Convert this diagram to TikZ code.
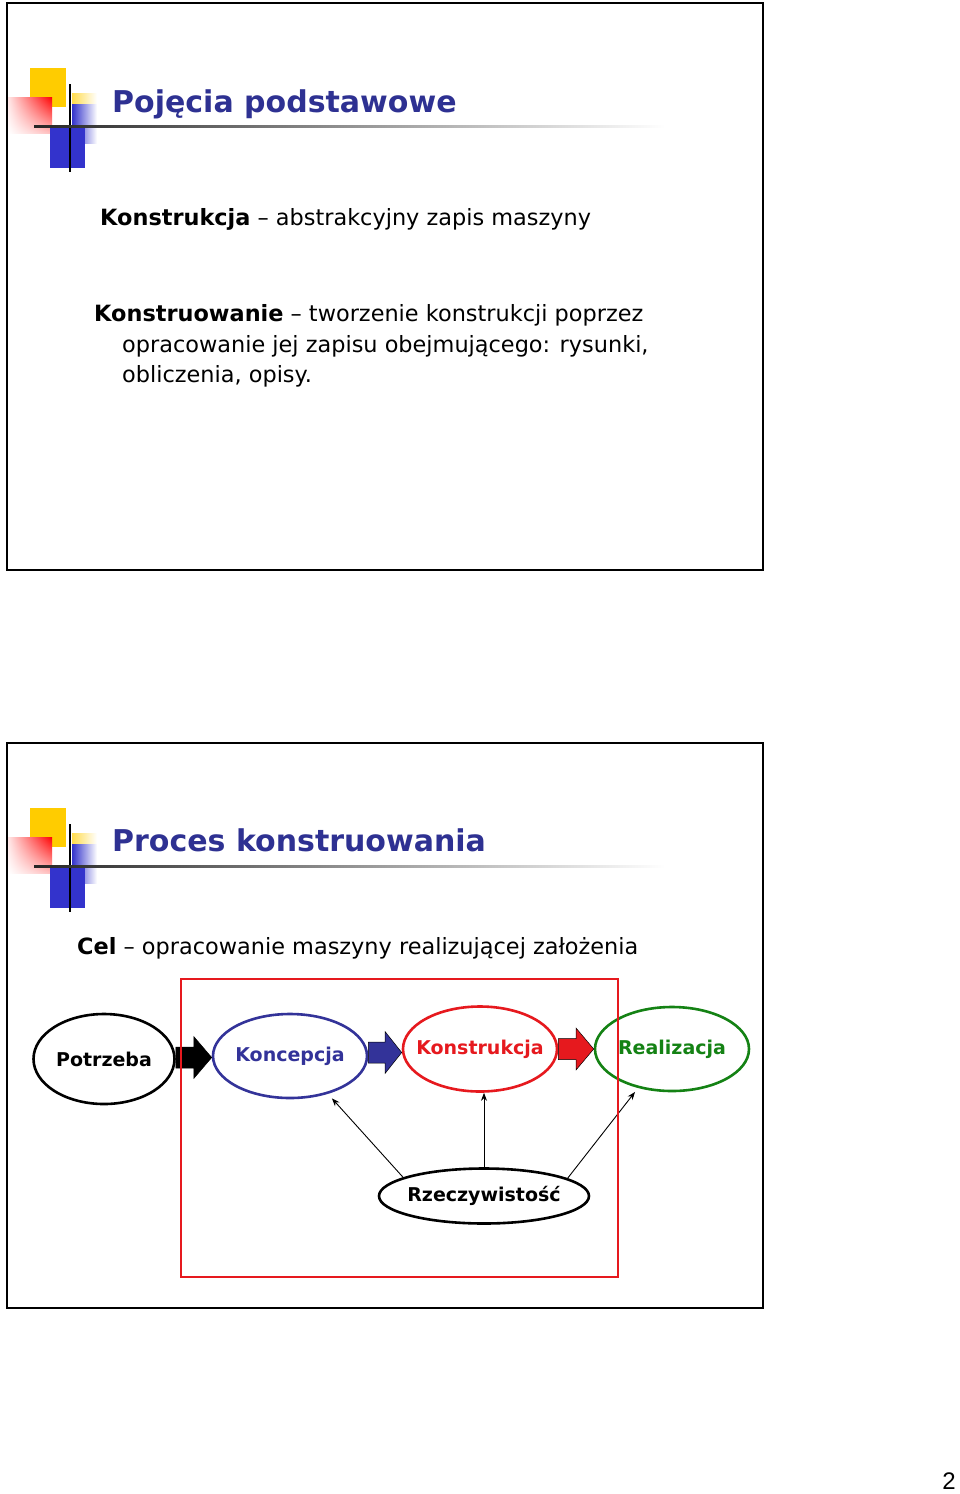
\documentclass[tikz,border=0pt]{standalone}
\usepackage{fontspec}
\setmainfont{DejaVu Sans}
\newfontfamily\pagenumfont{Liberation Sans}
\usepackage{xcolor}
\usetikzlibrary{calc,arrows.meta,shapes.geometric,shadings}

\definecolor{titleblue}{RGB}{46,49,146}
\definecolor{logoblue}{RGB}{51,51,204}
\definecolor{logoyellow}{RGB}{255,204,0}
\definecolor{conceptblue}{RGB}{51,51,153}
\definecolor{designred}{RGB}{230,25,30}
\definecolor{realgreen}{RGB}{20,130,20}

% slide logo: squares, gradients and rule
\newcommand{\slidelogo}{%
    \fill[logoyellow] (30,68) rectangle (66,107);
    \shade[upper left=red!10, upper right=red,
           lower left=white, lower right=red!25]
        (8,97) rectangle (52,133);
    \shade[left color=logoyellow!70, right color=white]
        (72,93) rectangle (97,104);
    \shade[left color=logoblue, right color=white]
        (72,104) rectangle (97,143);
    \fill[logoblue] (50,128) rectangle (85,168);
    \draw[line width=1.6pt] (70,84) -- (70,172);
    \shade[left color=black!85, right color=white]
        (34,125) rectangle (665,127.5);
}

% block arrow between two stages
\newcommand{\flowarrow}[3]{%
    \path (#1.east) -- coordinate[midway] (#1-#2-mid) (#2.west);
    \filldraw[fill=#3, draw=black, line width=0.5pt]
        let \p1=(#1.east), \p2=(#2.west), \p3=(#1-#2-mid) in
        (\x1,\y3+10.5pt) -- (\x3,\y3+10.5pt) -- (\x3,\y3+21pt)
        -- (\x2,\y3) -- (\x3,\y3-21pt) -- (\x3,\y3-10.5pt)
        -- (\x1,\y3-10.5pt) -- cycle;
}

\begin{document}
\begin{tikzpicture}[
    x=1pt,
    y=-1pt,
    >={Stealth[length=8pt,width=6pt]},
    slideframe/.style={draw=black,line width=1.6pt},
    slidetitle/.style={
        anchor=base west,
        inner sep=0pt,
        text=titleblue,
        font=\bfseries\fontsize{30}{36}\selectfont
    },
    bodytext/.style={
        anchor=base west,
        inner sep=0pt,
        font=\fontsize{22.4}{26}\selectfont
    },
    stage/.style={
        ellipse,
        draw,
        line width=2.6pt,
        inner xsep=-20pt,
        inner ysep=0pt,
        font=\bfseries\fontsize{19}{22}\selectfont
    },
    feedback/.style={->,line width=0.9pt}
]

\useasboundingbox (0,0) rectangle (960,1494);
\fill[white] (0,0) rectangle (960,1494);

% ---------------------------------------------------------
% Slide 1
% ---------------------------------------------------------

\draw[slideframe] (7,3) rectangle (763,570);

\begin{scope}
    \slidelogo
\end{scope}

\node[slidetitle] (title1) at (112,112) {Pojęcia podstawowe};

\node[bodytext] (def1) at (100,225)
    {\textbf{Konstrukcja} – abstrakcyjny zapis maszyny};

\node[bodytext] (def2) at (94,321)
    {\textbf{Konstruowanie} – tworzenie konstrukcji poprzez};
\node[bodytext] (def2b) at (122,352)
    {opracowanie jej zapisu obejmującego: rysunki,};
\node[bodytext] (def2c) at (122,382)
    {obliczenia, opisy.};

% ---------------------------------------------------------
% Slide 2
% ---------------------------------------------------------

\draw[slideframe] (7,743) rectangle (763,1308);

\begin{scope}[shift={(0,740)}]
    \slidelogo
\end{scope}

\node[slidetitle] (title2) at (112,851) {Proces konstruowania};

\node[bodytext] (goal) at (77,954)
    {\textbf{Cel} – opracowanie maszyny realizującej założenia};

% stages of the process
\node[stage,minimum width=141pt,minimum height=90pt]
    (need) at (104,1059) {Potrzeba};
\node[stage,draw=conceptblue,text=conceptblue,
      minimum width=154pt,minimum height=84pt]
    (concept) at (290,1056) {Koncepcja};
\node[stage,draw=designred,text=designred,
      minimum width=154pt,minimum height=85pt]
    (design) at (480,1049) {Konstrukcja};
\node[stage,draw=realgreen,text=realgreen,
      minimum width=154pt,minimum height=84pt]
    (realization) at (672,1049) {Realizacja};

\node[stage,minimum width=210pt,minimum height=55pt]
    (reality) at (484,1196) {Rzeczywistość};

% block arrows
\flowarrow{need}{concept}{black}
\flowarrow{concept}{design}{conceptblue}
\flowarrow{design}{realization}{designred}

% feedback from reality
\draw[feedback,shorten >=6pt]
    (reality.167) -- (concept.-45);
\draw[feedback]
    (reality.north) -- (reality.north |- design.south);
\draw[feedback,shorten >=5pt]
    (reality.12) -- (realization.-131);

% frame of the design phase
\draw[designred,line width=2pt] (181,979) rectangle (618,1277);

% page number
\node[anchor=base east,inner sep=0pt,
      font=\pagenumfont\fontsize{24}{26}\selectfont]
    (pagenum) at (956,1489) {2};

\end{tikzpicture}
\end{document}
